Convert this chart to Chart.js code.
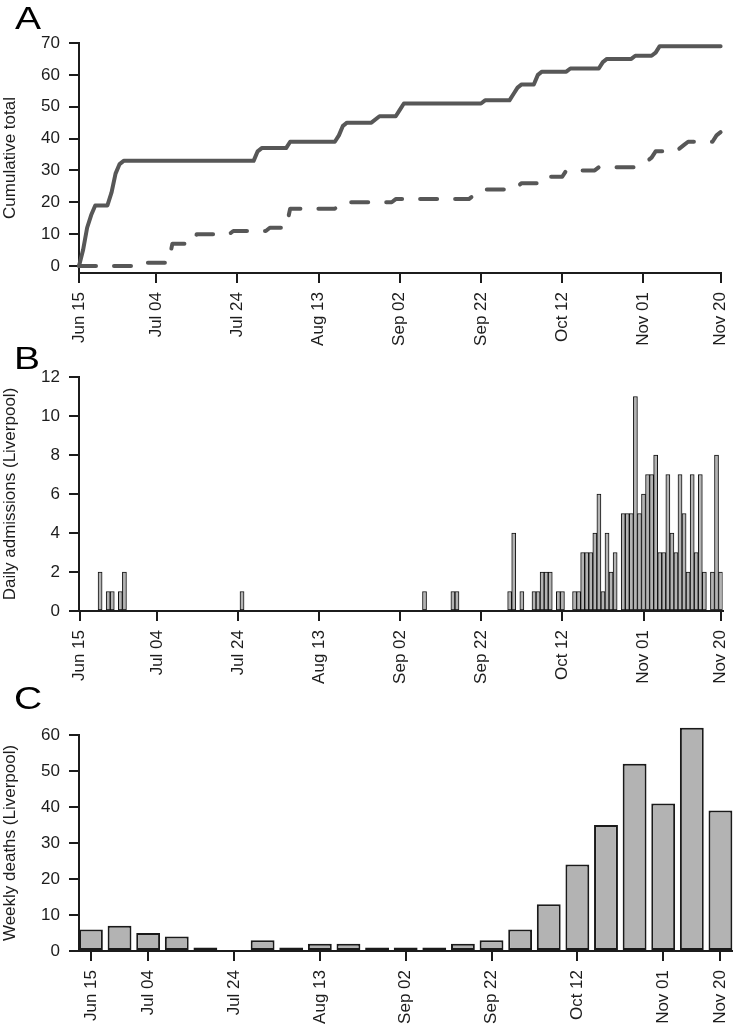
<!DOCTYPE html>
<html>
<head>
<meta charset="utf-8">
<script src="https://cdn.jsdelivr.net/npm/chart.js@4.4.1/dist/chart.umd.min.js"></script>
<style>
  body { margin: 0; background: #fff; }
  #wrap { position: relative; width: 750px; height: 1028px; overflow: hidden; }
  canvas { position: absolute; left: 0; }
  .panel { position: absolute; font-family: 'Liberation Sans', Arial, sans-serif; font-size: 32px; line-height: 32px;
    color: #000; transform: scaleX(1.22); transform-origin: left top; }
</style>
</head>
<body>
<div id="wrap">
  <canvas id="chartA" width="750" height="355" style="top:0px"></canvas>
  <canvas id="chartB" width="750" height="335" style="top:355px"></canvas>
  <canvas id="chartC" width="750" height="338" style="top:690px"></canvas>
  <div class="panel" style="left:15px;top:2px">A</div>
  <div class="panel" style="left:14px;top:342px">B</div>
  <div class="panel" style="left:14px;top:682px">C</div>
</div>
<script>
// days are counted from Jun 15 (day 0) to Nov 20 (day 158)
const tickDays = [0, 19, 39, 59, 79, 99, 119, 139, 158];
const tickLabels = ['Jun 15', 'Jul 04', 'Jul 24', 'Aug 13', 'Sep 02', 'Sep 22', 'Oct 12', 'Nov 01', 'Nov 20'];

// panel A - cumulative totals (turning points of the two lines)
const solidDays = [0, 1, 2, 3, 4, 7, 8, 9, 10, 11, 43, 44, 45, 51, 52, 63, 64, 65, 66, 72, 74, 78, 79, 80, 99, 100,
  106, 107, 108, 109, 112, 113, 114, 120, 121, 128, 129, 130, 136, 137, 141, 142, 143, 158];
const solidVals = [0, 5, 12, 16, 19, 19, 23, 29, 32, 33, 33, 36, 37, 37, 39, 39, 41, 44, 45, 45, 47, 47, 49, 51, 51, 52,
  52, 54, 56, 57, 57, 60, 61, 61, 62, 62, 64, 65, 65, 66, 66, 67, 69, 69];
const dashDays = [0, 15, 16, 22, 23, 28, 29, 37, 38, 46, 47, 51, 52, 63, 64, 65, 77, 78, 96, 97, 98, 99, 100,
  106, 107, 108, 109, 113, 114, 115, 119, 120, 127, 128, 137, 138, 140, 141, 142, 147, 148, 149, 150, 156, 157, 158];
const dashVals = [0, 0, 1, 1, 7, 7, 10, 10, 11, 11, 12, 12, 18, 18, 19, 20, 20, 21, 21, 22, 22, 23, 24,
  24, 25, 25, 26, 26, 26, 28, 28, 30, 30, 31, 31, 32, 33, 34, 36, 36, 37, 38, 39, 39, 41, 42];
const yTicksA = [0, 10, 20, 30, 40, 50, 60, 70];

// panel B - daily admissions (days with no admissions left out)
const admDays = [5, 7, 8, 10, 11, 40, 85, 92, 93, 106, 107, 109, 112, 113, 114, 115, 116, 118, 119, 122, 123,
  124, 125, 126, 127, 128, 129, 130, 131, 132, 134, 135, 136, 137, 138, 139, 140, 141, 142, 143, 144,
  145, 146, 147, 148, 149, 150, 151, 152, 153, 154, 156, 157, 158];
const admVals = [2, 1, 1, 1, 2, 1, 1, 1, 1, 1, 4, 1, 1, 1, 2, 2, 2, 1, 1, 1, 1,
  3, 3, 3, 4, 6, 1, 4, 2, 3, 5, 5, 5, 11, 5, 6, 7, 7, 8, 3, 3,
  7, 4, 3, 7, 5, 2, 7, 3, 7, 2, 2, 8, 2];
const yTicksB = [0, 2, 4, 6, 8, 10, 12];

// panel C - weekly deaths, one bar per week
const weeklyDeaths = [6, 7, 5, 4, 1, 0, 3, 1, 2, 2, 1, 1, 1, 2, 3, 6, 13, 24, 35, 52, 41, 62, 39];
const weekTickIdx = [0, 2, 5, 8, 11, 14, 17, 20, 22];
const yTicksC = [0, 10, 20, 30, 40, 50, 60];

const ink = '#1c1c1c';
const font17 = { family: "'Liberation Sans', Arial, sans-serif", size: 17 };

function fixTicks(values) {
  return function(scale) {
    scale.ticks = values.map(v => ({ value: v }));
  };
}

function xAxis(min, max, values, height) {
  return {
    type: 'linear',
    min: min,
    max: max,
    offset: false,
    afterBuildTicks: fixTicks(values),
    afterFit: s => { s.height = height; },
    border: { display: true, color: ink, width: 2 },
    grid: { display: true, offset: false, drawOnChartArea: false, drawTicks: true, tickLength: 10, color: ink, lineWidth: 2 },
    ticks: {
      autoSkip: false, minRotation: 90, maxRotation: 90, padding: 9, color: ink, font: font17,
      callback: (v, i) => tickLabels[i]
    }
  };
}

function yAxis(min, max, values, title) {
  return {
    type: 'linear',
    min: min,
    max: max,
    afterBuildTicks: fixTicks(values),
    afterFit: s => { s.width = 79; },
    border: { display: true, color: ink, width: 2 },
    grid: { display: true, drawOnChartArea: false, drawTicks: true, tickLength: 10, color: ink, lineWidth: 2 },
    ticks: { padding: 9, color: ink, font: font17 },
    title: { display: true, text: title, color: ink, font: font17, padding: { top: 0, bottom: 0 } }
  };
}

function baseOptions(pad, scales) {
  return {
    responsive: false,
    animation: false,
    devicePixelRatio: 1,
    layout: { autoPadding: false, padding: pad },
    plugins: { legend: { display: false }, tooltip: { enabled: false } },
    scales: scales
  };
}

// A
new Chart(document.getElementById('chartA'), {
  type: 'line',
  data: {
    datasets: [{
      data: solidDays.map((d, i) => ({ x: d, y: solidVals[i] })),
      borderColor: '#575757',
      borderWidth: 4,
      pointRadius: 0,
      tension: 0,
      borderJoinStyle: 'round',
      borderCapStyle: 'round',
      clip: false
    }, {
      data: dashDays.map((d, i) => ({ x: d, y: dashVals[i] })),
      borderColor: '#575757',
      borderWidth: 4,
      borderDash: [17, 18],
      pointRadius: 0,
      tension: 0,
      borderJoinStyle: 'round',
      borderCapStyle: 'round',
      clip: false
    }]
  },
  options: baseOptions({ top: 43, right: 10, bottom: 0, left: 0 }, {
    x: xAxis(0, 158, tickDays, 82),
    y: yAxis(-2.2, 70, yTicksA, 'Cumulative total')
  })
});

// B
new Chart(document.getElementById('chartB'), {
  type: 'bar',
  data: {
    datasets: [{
      data: admDays.map((d, i) => ({ x: d, y: admVals[i] })),
      backgroundColor: '#b3b3b3',
      borderColor: '#111',
      borderWidth: 1,
      borderSkipped: false,
      barPercentage: 1,
      categoryPercentage: 1
    }]
  },
  options: baseOptions({ top: 22, right: 9, bottom: 0, left: 0 }, {
    x: xAxis(-0.2, 158.5, tickDays, 79),
    y: yAxis(0, 12, yTicksB, 'Daily admissions (Liverpool)')
  })
});

// C
new Chart(document.getElementById('chartC'), {
  type: 'bar',
  data: {
    datasets: [{
      data: weeklyDeaths.map((v, i) => ({ x: i, y: v })),
      backgroundColor: '#b3b3b3',
      borderColor: '#1a1a1a',
      borderWidth: 2,
      borderSkipped: false,
      barPercentage: 1 / 1.2,
      categoryPercentage: 1,
      clip: false
    }]
  },
  options: baseOptions({ top: 45, right: 9, bottom: 0, left: 0 }, {
    x: xAxis(-0.4167, 22.4167, weekTickIdx, 77),
    y: yAxis(0, 60, yTicksC, 'Weekly deaths (Liverpool)')
  })
});
</script>
</body>
</html>
